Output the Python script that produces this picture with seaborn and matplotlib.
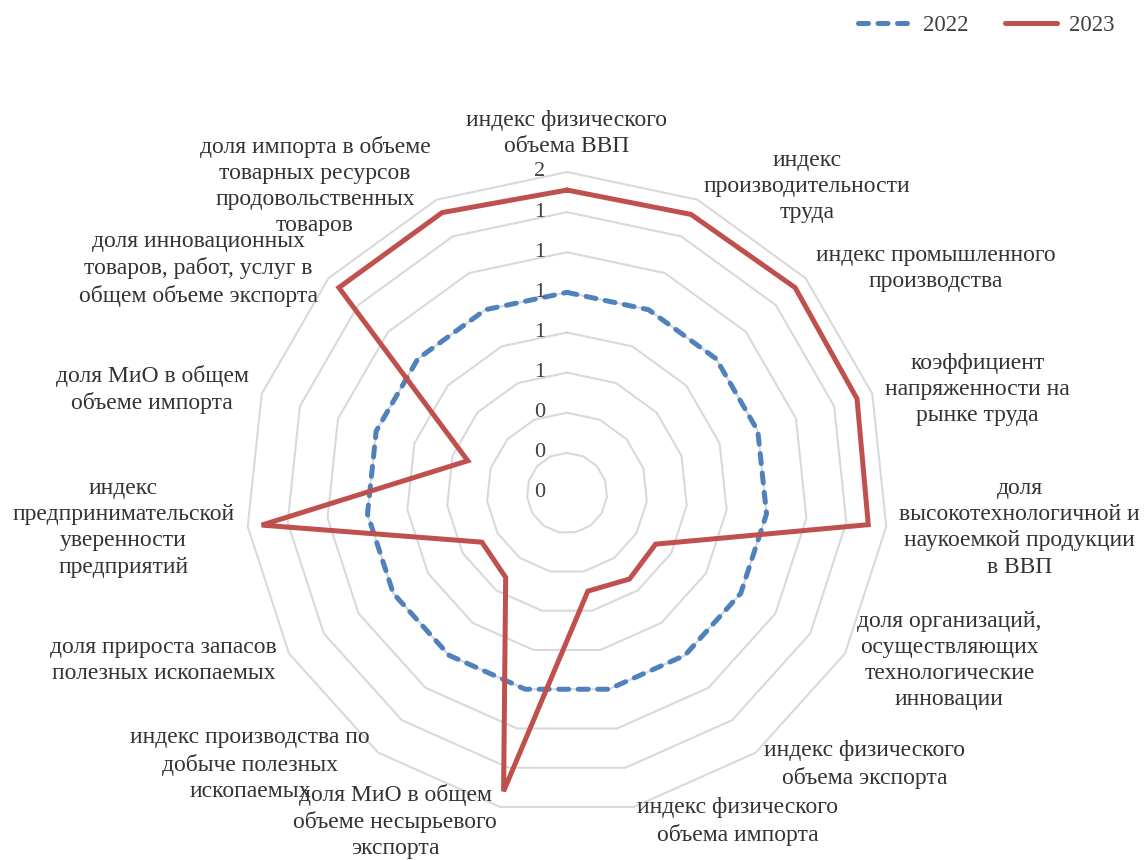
import numpy as np
import pandas as pd
import matplotlib
matplotlib.use("Agg")
import matplotlib.pyplot as plt
import matplotlib.transforms as mtransforms
import seaborn as sns

categories = [
    "индекс физического\nобъема ВВП",
    "индекс\nпроизводительности\nтруда",
    "индекс промышленного\nпроизводства",
    "коэффициент\nнапряженности на\nрынке труда",
    "доля\nвысокотехнологичной и\nнаукоемкой продукции\nв ВВП",
    "доля организаций,\nосуществляющих\nтехнологические\nинновации",
    "индекс физического\nобъема экспорта",
    "индекс физического\nобъема импорта",
    "доля МиО в общем\nобъеме несырьевого\nэкспорта",
    "индекс производства по\nдобыче полезных\nископаемых",
    "доля прироста запасов\nполезных ископаемых",
    "индекс\nпредпринимательской\nуверенности\nпредприятий",
    "доля МиО в общем\nобъеме импорта",
    "доля инновационных\nтоваров, работ, услуг в\nобщем объеме экспорта",
    "доля импорта в объеме\nтоварных ресурсов\nпродовольственных\nтоваров",
]
values_2022 = [1.0, 1.0, 1.0, 1.0, 1.0, 1.0, 1.0, 1.0, 1.0, 1.0, 1.0, 1.0, 1.0, 1.0, 1.0]
values_2023 = [1.51, 1.52, 1.53, 1.52, 1.51, 0.51, 0.53, 0.50, 1.52, 0.52, 0.49, 1.53, 0.52, 1.53, 1.53]
series_names = ["2022", "2023"]
ring_values = [0.0, 0.2, 0.4, 0.6, 0.8, 1.0, 1.2, 1.4, 1.6]
ring_labels = ["0", "0", "0", "1", "1", "1", "1", "1", "2"]

sns.set_theme(style="white")
plt.rcParams["font.family"] = ["Liberation Serif", "DejaVu Serif"]

n = len(categories)
theta = np.linspace(0, 2 * np.pi, n, endpoint=False)
theta_closed = np.append(theta, 2 * np.pi)

rows = []
for name, vals in zip(series_names, [values_2022, values_2023]):
    vc = list(vals) + [vals[0]]
    for t, v in zip(theta_closed, vc):
        rows.append({"theta": t, "value": v, "year": name})
df = pd.DataFrame(rows)

fig = plt.figure(figsize=(11.46, 8.60), dpi=100)
ax = fig.add_axes([246 / 1146, 46 / 860, 642 / 1146, 642 / 860], projection="polar")
ax.set_theta_zero_location("N")
ax.set_theta_direction(-1)
ax.set_ylim(0, ring_values[-1])
ax.grid(False)
ax.set_xticks([])
ax.set_yticks([])
ax.spines["polar"].set_visible(False)
ax.set_facecolor("none")

grid_color = "#d9d9d9"
for rv in ring_values[1:]:
    ax.plot(theta_closed, [rv] * (n + 1), color=grid_color, lw=1.5, zorder=1, clip_on=False)

palette = {"2022": "#4F81BD", "2023": "#C0504D"}
sns.lineplot(data=df[df["year"] == "2022"], x="theta", y="value", ax=ax, sort=False,
             color=palette["2022"], lw=3.6, zorder=3, label="2022", estimator=None)
sns.lineplot(data=df[df["year"] == "2023"], x="theta", y="value", ax=ax, sort=False,
             color=palette["2023"], lw=3.6, zorder=4, label="2023", estimator=None)
lines = ax.get_lines()
blue_line = lines[-2]
red_line = lines[-1]
blue_line.set_dashes([2.0, 1.9])
blue_line.set_dash_capstyle("round")
red_line.set_solid_capstyle("round")
red_line.set_solid_joinstyle("miter")
for l in (blue_line, red_line):
    l.set_clip_on(False)
ax.set_xlabel("")
ax.set_ylabel("")

fs = 17
# radial labels
off = mtransforms.offset_copy(ax.transData, fig=fig, x=-27, y=0, units="dots")
for rv, lab in zip(ring_values, ring_labels):
    ax.text(0, rv, lab, transform=off, ha="center", va="center", fontsize=16,
            color="#404040", zorder=5)

# category labels
for t, lab in zip(theta, categories):
    s = np.sin(t)
    r_lab = 1.665 + 0.01 * abs(np.cos(t))
    if abs(s) < 1e-6:
        ha, va = "center", "bottom"
    elif s > 0:
        ha, va = "left", "center"
    else:
        ha, va = "right", "center"
    ax.text(t, r_lab, lab, ha=ha, va=va, multialignment="center", fontsize=fs,
            color="#333333", linespacing=1.32, clip_on=False, zorder=5)

leg = ax.get_legend()
if leg is not None:
    leg.remove()
handles = [blue_line, red_line]
fig.legend(handles, series_names, loc="upper right", bbox_to_anchor=(1127 / 1146, 1 - 2 / 860),
           ncol=2, frameon=False, fontsize=16.5, handlelength=2.3, columnspacing=1.6,
           handletextpad=0.5, labelcolor="#404040", borderpad=0.05)

fig.savefig("out.png", dpi=100, facecolor="white")
